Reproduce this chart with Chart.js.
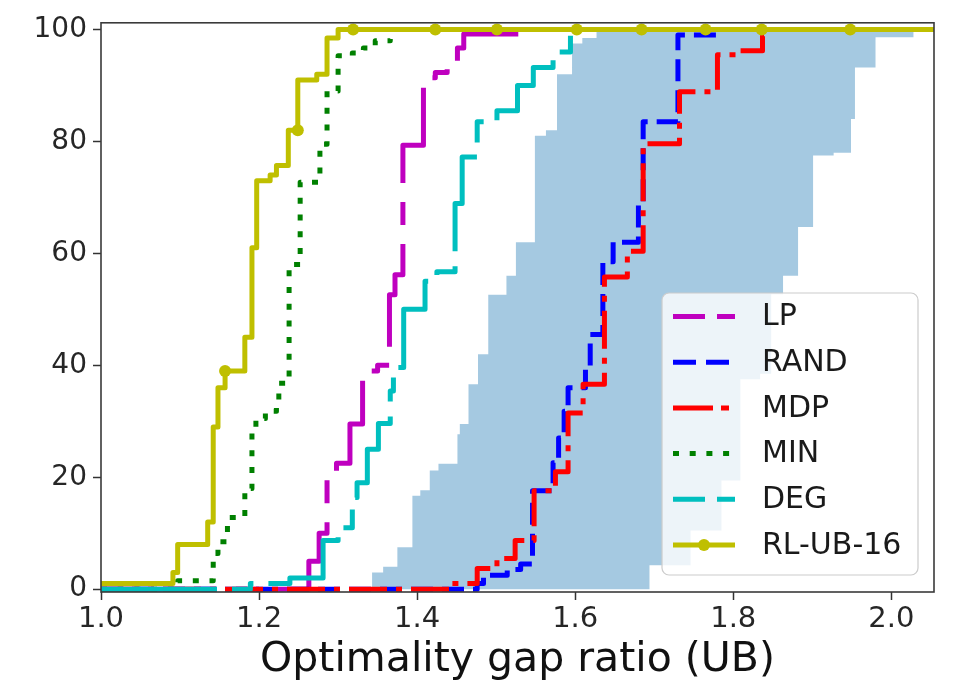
<!DOCTYPE html>
<html>
<head>
<meta charset="utf-8">
<script src="https://cdn.jsdelivr.net/npm/chart.js@4.4.1/dist/chart.umd.min.js"></script>
<style>
  html, body { margin: 0; padding: 0; background: #ffffff; }
  #wrap { width: 958px; height: 681px; }
</style>
</head>
<body>
<div id="wrap"><canvas id="cdf" width="958" height="681"></canvas></div>
<script>
// Cumulative share of instances (%) against the optimality gap ratio (UB).
// Each curve is a step function: at ratio X[i] the share rises to Y[i].
const lpX   = [1.0, 1.263, 1.276, 1.286, 1.298, 1.315, 1.331, 1.350, 1.365, 1.372, 1.382, 1.408, 1.423, 1.438, 1.441, 1.451, 1.459, 1.528];
const lpY   = [0, 5, 10, 21, 22.5, 29.5, 39, 40, 52.6, 56.2, 79.3, 91.4, 92.3, 93.5, 94.4, 96.7, 99.2, 99.2];

const randX = [1.0, 1.476, 1.484, 1.514, 1.531, 1.546, 1.572, 1.579, 1.586, 1.591, 1.613, 1.619, 1.635, 1.648, 1.680, 1.686, 1.730, 1.784];
const randY = [0, 1, 2.5, 3.5, 4.5, 17.6, 22.6, 27, 31.8, 36, 39.5, 45.5, 58.5, 62, 69, 83.5, 99, 99];

const mdpX  = [1.0, 1.444, 1.476, 1.501, 1.524, 1.548, 1.575, 1.591, 1.610, 1.637, 1.666, 1.686, 1.732, 1.780, 1.806, 1.837, 1.847];
const mdpY  = [0, 1, 3.7, 5.5, 8.7, 17.6, 21, 31.5, 36.6, 55.8, 60.4, 79.6, 88.9, 95.5, 96.2, 98.8, 98.8];

const minX  = [1.0, 1.097, 1.142, 1.148, 1.160, 1.182, 1.191, 1.196, 1.208, 1.222, 1.225, 1.238, 1.252, 1.277, 1.286, 1.300, 1.318, 1.332, 1.347, 1.366];
const minY  = [0, 1.5, 6.4, 8.5, 12.8, 18, 29, 30.5, 31.8, 33.5, 36.8, 58, 72.7, 79.5, 89, 95.3, 95.8, 96.7, 98, 98.3];

const degX  = [1.0, 1.189, 1.239, 1.281, 1.300, 1.318, 1.324, 1.337, 1.351, 1.366, 1.370, 1.383, 1.410, 1.425, 1.448, 1.457, 1.476, 1.501, 1.527, 1.547, 1.572, 1.594, 1.600];
const degY  = [0, 1, 2, 8.7, 11, 16.4, 19, 25, 29.6, 35.4, 39.6, 50, 55, 56.7, 68.9, 77.2, 83.5, 85.5, 90, 93.2, 96, 99.4, 99.4];

const rlX   = [1.0, 1.091, 1.097, 1.135, 1.142, 1.148, 1.157, 1.182, 1.191, 1.197, 1.214, 1.222, 1.237, 1.249, 1.249, 1.273, 1.286, 1.300, 1.319, 1.423, 1.501, 1.602, 1.684, 1.765, 1.836, 1.948, 2.1];
const rlY   = [1, 3, 8, 12, 29, 36, 39, 45, 61, 73, 74, 75.7, 82, 82, 91, 92, 98.5, 100, 100, 100, 100, 100, 100, 100, 100, 100, 100];
// indices of the RL-UB-16 points that carry a marker
const rlMarkerIdx = [6, 13, 18, 19, 20, 21, 22, 23, 24, 25];

// Shaded band: ratio range per share level (lower and upper edge, stepwise).
const bandLowY  = [0, 3, 4, 7.5, 16.7, 17.7, 21.2, 22.4, 27.7, 29.5, 36.6, 42, 52.6, 56, 62, 81, 82, 92, 97.5, 98.5, 100];
const bandLowX  = [1.343, 1.357, 1.375, 1.394, 1.404, 1.416, 1.427, 1.451, 1.454, 1.465, 1.477, 1.490, 1.513, 1.525, 1.549, 1.563, 1.577, 1.596, 1.609, 1.627];
const bandHighY = [0, 4.3, 10.5, 19.4, 37.5, 38.5, 52.7, 56, 64.7, 77.5, 78, 84, 93.2, 98.6, 100];
const bandHighX = [1.694, 1.746, 1.785, 1.809, 1.834, 1.848, 1.863, 1.882, 1.901, 1.927, 1.949, 1.954, 1.980, 2.028];

const xTicks = [1.0, 1.2, 1.4, 1.6, 1.8, 2.0];
const xTickLabels = ['1.0', '1.2', '1.4', '1.6', '1.8', '2.0'];
const yTicks = [0, 20, 40, 60, 80, 100];
const yTickLabels = ['0', '20', '40', '60', '80', '100'];

const FONT = 'DejaVu Sans';

function zip(xs, ys) {
  return xs.map((x, i) => ({ x: x, y: ys[i] }));
}

// Closed outline of the band: up the lower edge, back down the upper edge.
function bandOutline() {
  const pts = [];
  for (let i = 0; i < bandLowX.length; i++) {
    pts.push({ x: bandLowX[i], y: bandLowY[i] });
    pts.push({ x: bandLowX[i], y: bandLowY[i + 1] });
  }
  for (let j = bandHighX.length - 1; j >= 0; j--) {
    pts.push({ x: bandHighX[j], y: bandHighY[j + 1] });
    pts.push({ x: bandHighX[j], y: bandHighY[j] });
  }
  return pts;
}

function stepLine(label, xs, ys, color, dash, legendDash, order) {
  return {
    label: label,
    data: zip(xs, ys),
    borderColor: color,
    backgroundColor: color,
    borderWidth: 5,
    borderDash: dash,
    borderCapStyle: 'butt',
    borderJoinStyle: 'round',
    legendDash: legendDash,
    stepped: 'before',
    fill: false,
    pointRadius: 0,
    order: order
  };
}

const rlSeries = stepLine('RL-UB-16', rlX, rlY, '#bfbf00', [], [], 1);
rlSeries.pointRadius = rlX.map((_, i) => rlMarkerIdx.includes(i) ? 6 : 0);
rlSeries.pointBorderWidth = 0;
rlSeries.pointBackgroundColor = '#bfbf00';
rlSeries.legendMarker = true;

const datasets = [
  {
    data: bandOutline(),
    fill: 'shape',
    backgroundColor: 'rgba(31,119,180,0.4)',
    borderColor: 'rgba(0,0,0,0)',
    borderWidth: 0,
    pointRadius: 0,
    tension: 0,
    order: 10
  },
  stepLine('LP',   lpX,   lpY,   '#bf00bf', [116, 19, 23, 19], [32, 12], 6),
  stepLine('RAND', randX, randY, '#0000ff', [22, 9],           [23, 10], 5),
  stepLine('MDP',  mdpX,  mdpY,  '#ff0000', [38, 9, 6, 9],     [40, 8, 8, 8], 4),
  stepLine('MIN',  minX,  minY,  '#008000', [6, 10.7],         [6, 10.7], 3),
  stepLine('DEG',  degX,  degY,  '#00bfbf', [116, 15, 27, 15], [32, 12], 2),
  rlSeries
];

// Frame around the plotting area, drawn over the curves.
const frame = {
  id: 'frame',
  afterDatasetsDraw(chart) {
    const { ctx, chartArea: a } = chart;
    ctx.save();
    ctx.strokeStyle = '#3a3a3a';
    ctx.lineWidth = 1.6;
    ctx.strokeRect(a.left, a.top, a.right - a.left, a.bottom - a.top);
    ctx.restore();
  }
};

function roundRectPath(ctx, x, y, w, h, r) {
  ctx.beginPath();
  ctx.moveTo(x + r, y);
  ctx.lineTo(x + w - r, y);
  ctx.arcTo(x + w, y, x + w, y + r, r);
  ctx.lineTo(x + w, y + h - r);
  ctx.arcTo(x + w, y + h, x + w - r, y + h, r);
  ctx.lineTo(x + r, y + h);
  ctx.arcTo(x, y + h, x, y + h - r, r);
  ctx.lineTo(x, y + r);
  ctx.arcTo(x, y, x + r, y, r);
  ctx.closePath();
}

// Legend box in the lower right corner of the plot.
const boxLegend = {
  id: 'boxLegend',
  afterDraw(chart) {
    const { ctx, chartArea: a } = chart;
    const w = 256, h = 282;
    const x0 = a.right - 16 - w;
    const y0 = a.bottom - 17 - h;
    ctx.save();
    roundRectPath(ctx, x0, y0, w, h, 7);
    ctx.fillStyle = 'rgba(255,255,255,0.8)';
    ctx.fill();
    ctx.strokeStyle = '#cccccc';
    ctx.lineWidth = 1.2;
    ctx.stroke();

    const items = chart.data.datasets.filter(d => d.label);
    items.forEach((ds, i) => {
      const cy = y0 + 23.5 + i * 45.7;
      const sx0 = x0 + 11, sx1 = x0 + 73;
      ctx.setLineDash(ds.legendDash || []);
      ctx.lineDashOffset = 0;
      ctx.lineCap = 'butt';
      ctx.strokeStyle = ds.borderColor;
      ctx.lineWidth = ds.borderWidth;
      ctx.beginPath();
      ctx.moveTo(sx0, cy);
      ctx.lineTo(sx1, cy);
      ctx.stroke();
      ctx.setLineDash([]);
      if (ds.legendMarker) {
        ctx.fillStyle = ds.borderColor;
        ctx.beginPath();
        ctx.arc((sx0 + sx1) / 2, cy, 6, 0, Math.PI * 2);
        ctx.fill();
      }
      ctx.fillStyle = '#1a1a1a';
      ctx.font = '30px "' + FONT + '"';
      ctx.textAlign = 'left';
      ctx.textBaseline = 'middle';
      ctx.fillText(ds.label, x0 + 100, cy + 1);
    });
    ctx.restore();
  }
};

Chart.defaults.font.family = FONT;

new Chart(document.getElementById('cdf'), {
  type: 'line',
  data: { datasets: datasets },
  plugins: [frame, boxLegend],
  options: {
    responsive: false,
    devicePixelRatio: 1,
    animation: false,
    events: [],
    layout: { padding: { left: 0, right: 24, top: 20, bottom: 0 } },
    plugins: {
      legend: { display: false },
      tooltip: { enabled: false }
    },
    scales: {
      x: {
        type: 'linear',
        min: 1.0,
        max: 2.054,
        afterBuildTicks: s => { s.ticks = xTicks.map(v => ({ value: v })); },
        afterFit: s => { s.height = 89; },
        ticks: {
          callback: (v, i) => xTickLabels[i],
          font: { size: 29 },
          color: '#262626',
          padding: 2,
          maxRotation: 0,
          autoSkip: false
        },
        grid: { drawOnChartArea: false, drawTicks: true, tickLength: 8, tickWidth: 1.5, color: '#333333' },
        border: { display: false },
        title: {
          display: true,
          text: 'Optimality gap ratio (UB)',
          font: { size: 41, lineHeight: 1.0 },
          color: '#111111',
          padding: { top: 0, bottom: 0 }
        }
      },
      y: {
        type: 'linear',
        min: -0.5,
        max: 101.2,
        afterBuildTicks: s => { s.ticks = yTicks.map(v => ({ value: v })); },
        afterFit: s => { s.width = 101; },
        ticks: {
          callback: (v, i) => yTickLabels[i],
          font: { size: 28 },
          color: '#262626',
          padding: 6,
          autoSkip: false
        },
        grid: { drawOnChartArea: false, drawTicks: true, tickLength: 8, tickWidth: 1.5, color: '#333333' },
        border: { display: false }
      }
    }
  }
});
</script>
</body>
</html>
